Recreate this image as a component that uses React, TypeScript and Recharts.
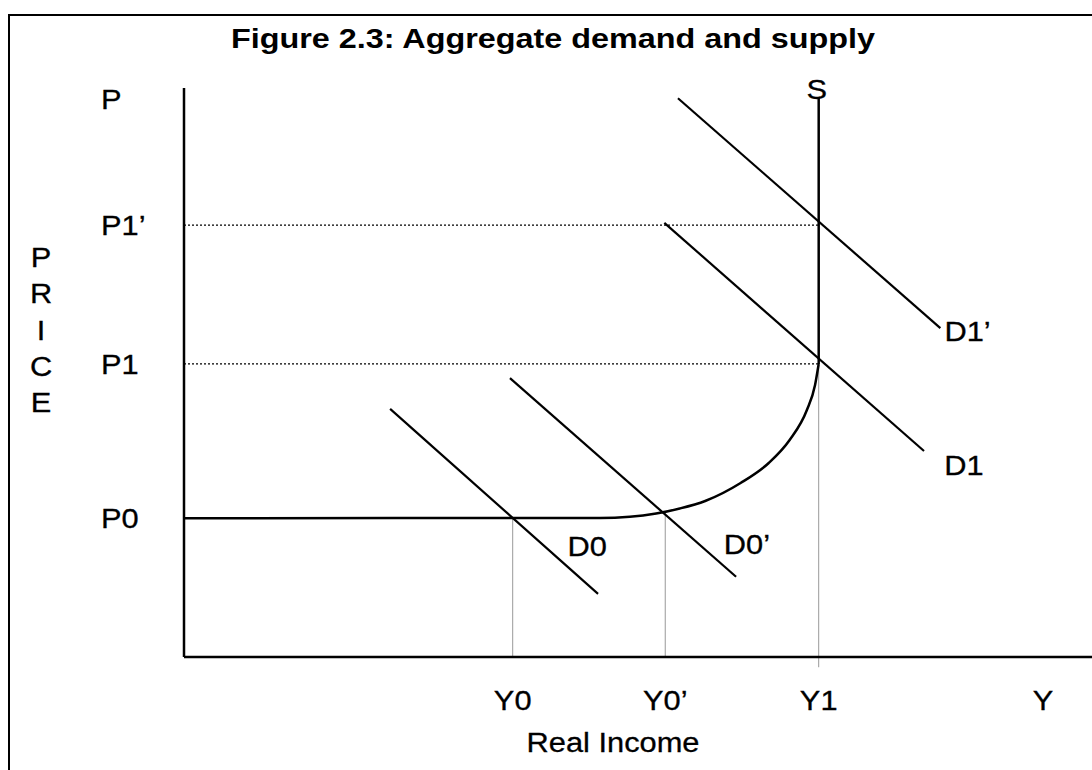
import React from 'react';
import {
  LineChart,
  Line,
  XAxis,
  YAxis,
  ReferenceLine,
  ReferenceDot,
  Customized,
} from 'recharts';

// ---- data (in chart units: x = real income 0..100, y = price 0..100) ----
const xTickValues = [36.2, 53.0, 69.9, 94.6];
const xTickLabels = ['Y0', 'Y0’', 'Y1', 'Y'];

const yTickValues = [24.4, 51.5, 75.9, 98.1];
const yTickLabels = ['P0', 'P1', 'P1’', 'P'];

// supply curve S (flat, curved, then vertical)
const supplyX = [0, 45.8, 49.1, 52.0, 54.6, 57.4, 61.3, 64.4, 66.7, 68.6, 69.5, 69.9, 69.9];
const supplyY = [24.4, 24.43, 24.64, 25.22, 26.1, 27.42, 30.58, 34.1, 38.14, 43.41, 47.8, 51.5, 98.4];

// demand curves
const d0X = [22.7, 45.6];
const d0Y = [43.6, 11.1];
const d0pX = [35.9, 60.8];
const d0pY = [49.0, 14.1];
const d1X = [52.9, 81.5];
const d1Y = [76.3, 36.2];
const d1pX = [54.4, 83.3];
const d1pY = [98.2, 57.8];

// curve labels
const curveLabelText = ['D0', 'D0’', 'D1', 'D1’', 'S'];
const curveLabelX = [44.4, 62.0, 85.9, 86.3, 69.7];
const curveLabelY = [19.5, 19.9, 33.7, 57.3, 99.8];

const priceLetters = ['P', 'R', 'I', 'C', 'E'];
const titleText = 'Figure 2.3: Aggregate demand and supply';
const xAxisTitle = 'Real Income';

const toPoints = (xs: number[], ys: number[]) => xs.map((x, i) => ({ x, y: ys[i] }));

const supplyAll = toPoints(supplyX, supplyY);
const supplyCurve = supplyAll.slice(0, supplyAll.length - 1);
const supplyVertical = supplyAll.slice(supplyAll.length - 2);
const d0Data = toPoints(d0X, d0Y);
const d0pData = toPoints(d0pX, d0pY);
const d1Data = toPoints(d1X, d1Y);
const d1pData = toPoints(d1pX, d1pY);

const FONT = '"Liberation Sans", Arial, Helvetica, sans-serif';
const SX = 1.1;

function StretchText({
  x,
  y,
  children,
  size = 28,
  anchor = 'middle',
}: {
  x: number;
  y: number;
  children: React.ReactNode;
  size?: number;
  anchor?: 'start' | 'middle' | 'end';
}) {
  return (
    <text
      transform={`translate(${x},${y}) scale(${SX},1)`}
      textAnchor={anchor}
      dominantBaseline="central"
      fontSize={size}
      fontFamily={FONT}
      fill="#000"
      stroke="#000"
      strokeWidth={0.3}
    >
      {children}
    </text>
  );
}

const YTick = (props: any) => {
  const { x, y, payload } = props;
  const idx = yTickValues.indexOf(payload.value);
  return (
    <StretchText x={x - 83} y={y} anchor="start">
      {yTickLabels[idx]}
    </StretchText>
  );
};

const XTick = (props: any) => {
  const { x, y, payload } = props;
  const idx = xTickValues.indexOf(payload.value);
  return (
    <StretchText x={x} y={y + 43}>
      {xTickLabels[idx]}
    </StretchText>
  );
};

const Decorations = () => (
  <g>
    <text
      x={231}
      y={48}
      textLength={644}
      lengthAdjust="spacingAndGlyphs"
      fontSize={28}
      fontWeight="bold"
      fontFamily={FONT}
      fill="#000"
    >
      {titleText}
    </text>
    {priceLetters.map((ch, i) => (
      <StretchText key={ch + i} x={41} y={257 + i * 36.3}>
        {ch}
      </StretchText>
    ))}
    <StretchText x={613} y={742}>
      {xAxisTitle}
    </StretchText>
  </g>
);

const makeLabel = (text: string) => (props: any) => {
  const vb = props.viewBox || {};
  const cx = (vb.x || 0) + (vb.width || 0) / 2;
  const cy = (vb.y || 0) + (vb.height || 0) / 2;
  return (
    <StretchText x={cx} y={cy}>
      {text}
    </StretchText>
  );
};

export default function App() {
  return (
    <div style={{ position: 'absolute', left: 0, top: 0, width: 1092, height: 770, background: '#fff' }}>
      <div
        style={{
          position: 'absolute',
          left: 8,
          top: 14,
          width: 1100,
          height: 770,
          borderTop: '2.5px solid #000',
          borderLeft: '2.5px solid #000',
        }}
      />
      <div style={{ position: 'absolute', left: 0, top: 0 }}>
        <LineChart width={1092} height={770} margin={{ top: 88, right: 0, bottom: 0, left: 0 }}>
          <XAxis
            dataKey="x"
            type="number"
            domain={[0, 100]}
            ticks={xTickValues}
            interval={0}
            height={113}
            tickLine={false}
            tickSize={0}
            tickMargin={0}
            axisLine={{ stroke: '#000', strokeWidth: 2.5 }}
            tick={XTick}
            allowDataOverflow
          />
          <YAxis
            type="number"
            domain={[0, 100]}
            ticks={yTickValues}
            interval={0}
            width={184}
            tickLine={false}
            tickSize={0}
            tickMargin={0}
            axisLine={{ stroke: '#000', strokeWidth: 2.5 }}
            tick={YTick}
            allowDataOverflow
          />

          {/* dotted price guides */}
          <ReferenceLine
            segment={[{ x: 0, y: yTickValues[1] }, { x: xTickValues[2], y: yTickValues[1] }]}
            stroke="#000"
            strokeWidth={1.3}
            strokeDasharray="2 2"
            ifOverflow="visible"
          />
          <ReferenceLine
            segment={[{ x: 0, y: yTickValues[2] }, { x: xTickValues[2], y: yTickValues[2] }]}
            stroke="#000"
            strokeWidth={1.3}
            strokeDasharray="2 2"
            ifOverflow="visible"
          />
          {/* thin income guides */}
          <ReferenceLine
            segment={[{ x: xTickValues[0], y: 0 }, { x: xTickValues[0], y: yTickValues[0] }]}
            stroke="#999"
            strokeWidth={1}
            ifOverflow="visible"
          />
          <ReferenceLine
            segment={[{ x: xTickValues[1], y: 0 }, { x: xTickValues[1], y: 25.3 }]}
            stroke="#999"
            strokeWidth={1}
            ifOverflow="visible"
          />
          <ReferenceLine
            segment={[{ x: xTickValues[2], y: -1.8 }, { x: xTickValues[2], y: yTickValues[1] }]}
            stroke="#999"
            strokeWidth={1}
            ifOverflow="visible"
          />

          <Line
            data={supplyCurve}
            dataKey="y"
            type="monotoneX"
            stroke="#000"
            strokeWidth={2.5}
            dot={false}
            activeDot={false}
            isAnimationActive={false}
          />
          <Line
            data={supplyVertical}
            dataKey="y"
            type="linear"
            stroke="#000"
            strokeWidth={2.5}
            dot={false}
            activeDot={false}
            isAnimationActive={false}
          />
          {[d0Data, d0pData, d1Data, d1pData].map((d, i) => (
            <Line
              key={'d' + i}
              data={d}
              dataKey="y"
              type="linear"
              stroke="#000"
              strokeWidth={2.2}
              dot={false}
              activeDot={false}
              isAnimationActive={false}
            />
          ))}

          {curveLabelText.map((t, i) => (
            <ReferenceDot
              key={t}
              x={curveLabelX[i]}
              y={curveLabelY[i]}
              r={1}
              fill="none"
              stroke="none"
              ifOverflow="visible"
              label={{ content: makeLabel(t) }}
            />
          ))}

          <Customized component={Decorations} />
        </LineChart>
      </div>
    </div>
  );
}
